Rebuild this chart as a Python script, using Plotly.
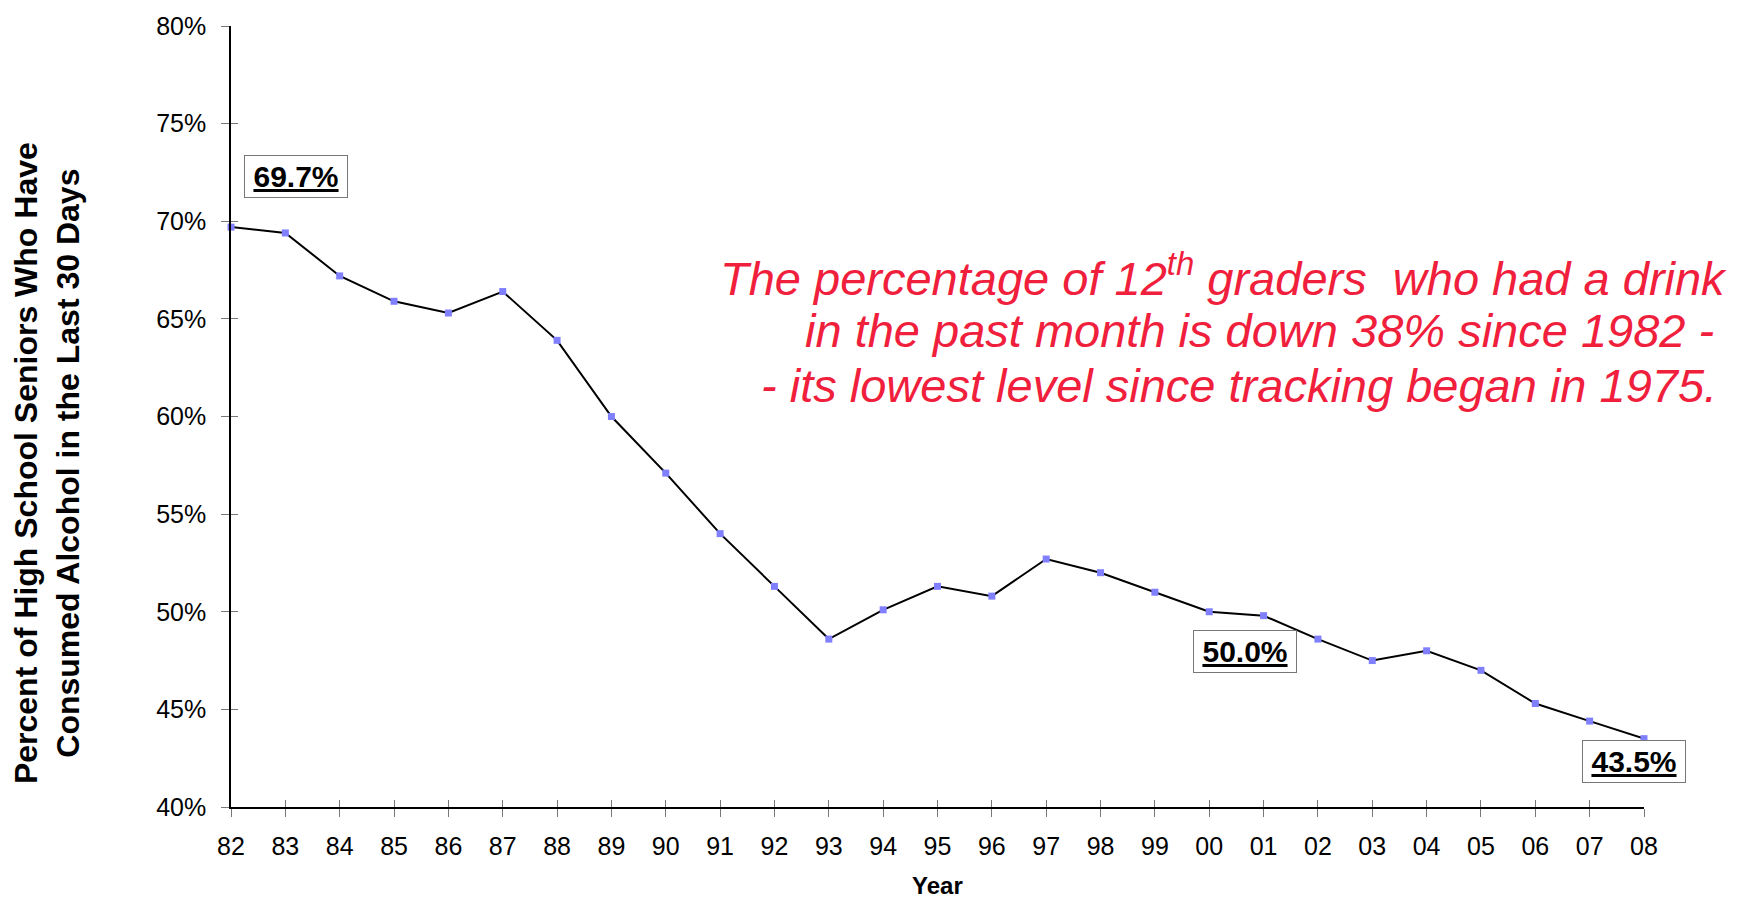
import plotly.graph_objects as go

years = ["82", "83", "84", "85", "86", "87", "88", "89", "90", "91", "92", "93", "94",
         "95", "96", "97", "98", "99", "00", "01", "02", "03", "04", "05", "06", "07", "08"]
pct = [69.7, 69.4, 67.2, 65.9, 65.3, 66.4, 63.9, 60.0, 57.1, 54.0, 51.3, 48.6, 50.1,
       51.3, 50.8, 52.7, 52.0, 51.0, 50.0, 49.8, 48.6, 47.5, 48.0, 47.0, 45.3, 44.4, 43.5]
y_ticks = [40, 45, 50, 55, 60, 65, 70, 75, 80]
y_ticktext = [f"{v}%" for v in y_ticks]
callouts = [("82", 69.7), ("00", 50.0), ("08", 43.5)]
note_lines = [
    "The percentage of 12<sup>th</sup> graders  who had a drink",
    "in the past month is down 38% since 1982 -",
    "- its lowest level since tracking began in 1975.",
]
y_title = "Percent of High School Seniors Who Have<br>Consumed Alcohol in the Last 30 Days"
x_title = "Year"

FONT = "Liberation Sans, Arial, sans-serif"
W, H = 1744, 898
L, R, T, B = 231, 100, 19, 91
PW, PH = W - L - R, H - T - B


def px(xp):
    return (xp - L) / PW


def py(yp):
    return (H - B - yp) / PH


fig = go.Figure()
fig.add_trace(go.Scatter(
    x=years, y=pct, mode="lines+markers",
    line=dict(color="black", width=2),
    marker=dict(symbol="square", size=7, color="#8080FF"),
    cliponaxis=False, showlegend=False, hoverinfo="x+y",
))
# invisible twin trace so that the overlay axes (inner half of tick marks) render
fig.add_trace(go.Scatter(
    x=years, y=pct, xaxis="x2", yaxis="y2", mode="lines",
    opacity=0, showlegend=False, hoverinfo="skip",
))

tick_font = dict(family=FONT, size=25, color="black")
fig.update_layout(
    width=W, height=H,
    margin=dict(l=L, r=R, t=T, b=B, pad=0),
    paper_bgcolor="white", plot_bgcolor="white",
    xaxis=dict(type="category", categoryorder="array", categoryarray=years,
               range=[0, len(years) - 1], showline=True, linecolor="black", linewidth=1.5,
               ticks="outside", ticklen=8, tickcolor="#777", tickwidth=1,
               showgrid=False, zeroline=False, tickfont=tick_font,
               ticklabelstandoff=8),
    yaxis=dict(range=[40, 80], tickvals=y_ticks, ticktext=y_ticktext,
               showline=True, linecolor="black", linewidth=1.5,
               ticks="outside", ticklen=8, tickcolor="#777", tickwidth=1,
               showgrid=False, zeroline=False, tickfont=tick_font,
               ticklabelstandoff=10),
    xaxis2=dict(type="category", categoryorder="array", categoryarray=years,
                range=[0, len(years) - 1], overlaying="x", anchor="y",
                ticks="inside", ticklen=7, tickcolor="#777", tickwidth=1,
                showticklabels=False, showline=False, showgrid=False, zeroline=False),
    yaxis2=dict(range=[40, 80], tickvals=y_ticks, overlaying="y", anchor="x",
                ticks="inside", ticklen=7, tickcolor="#777", tickwidth=1,
                showticklabels=False, showline=False, showgrid=False, zeroline=False),
)

# callout boxes (x given as category index)
shifts = {"82": (65, 51), "00": (36, -40), "08": (-10, -23)}
for yr, v in callouts:
    dx, dy = shifts[yr]
    fig.add_annotation(
        x=years.index(yr), y=v, xref="x", yref="y", text=f"<b><u>{v:.1f}%</u></b>",
        showarrow=False, xshift=dx, yshift=dy,
        font=dict(family=FONT, size=30, color="black"),
        bordercolor="#777", borderwidth=1, borderpad=5, bgcolor="white",
        width=92, height=31,
    )

# red commentary
red = "#F0203C"
for line, (xr, yc) in zip(note_lines, [(1729, 270), (1716, 326), (1719, 382)]):
    fig.add_annotation(
        x=px(xr), y=py(yc), xref="paper", yref="paper", xanchor="right", yanchor="middle",
        text=f"<i>{line}</i>", showarrow=False,
        font=dict(family=FONT, size=47, color=red),
    )

# axis titles
fig.add_annotation(
    x=px(47), y=py(460), xref="paper", yref="paper", xanchor="center", yanchor="middle",
    text=f"<b>{y_title}</b>", textangle=-90, showarrow=False,
    font=dict(family=FONT, size=32, color="black"),
)
fig.add_annotation(
    x=0.5, y=py(886), xref="paper", yref="paper", xanchor="center", yanchor="middle",
    text=f"<b>{x_title}</b>", showarrow=False,
    font=dict(family=FONT, size=24, color="black"),
)

fig.write_html("out.html", config={"displayModeBar": False},
               post_script="document.body.style.margin='0';")
